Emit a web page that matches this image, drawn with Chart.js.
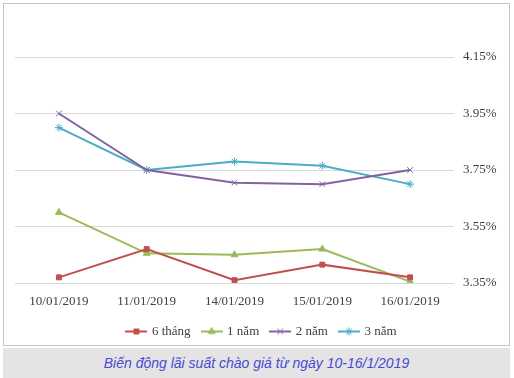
<!DOCTYPE html>
<html><head><meta charset="utf-8">
<script src="https://cdn.jsdelivr.net/npm/chart.js@4/dist/chart.umd.min.js"></script>
<style>
html,body{margin:0;padding:0;background:#fff;width:514px;height:378px;overflow:hidden;}
#box{position:absolute;left:3px;top:3px;width:505px;height:341px;border:1px solid #c4c4c4;}
#wrap{position:absolute;left:0;top:0;width:505px;height:341px;}
#cap{position:absolute;left:3px;top:348px;width:507px;height:30px;background:#e4e4e4;
 font:italic 14px "Liberation Sans",Arial,sans-serif;color:#4a4ad4;text-align:center;line-height:30px;}
</style></head><body>
<div id="box"><div id="wrap"><canvas id="c"></canvas></div></div>
<div id="cap">Biến động lãi suất chào giá từ ngày 10-16/1/2019</div>
<script>
const categories = ["10/01/2019","11/01/2019","14/01/2019","15/01/2019","16/01/2019"];
const seriesNames = ["6 tháng","1 năm","2 năm","3 năm"];
const s6thang = [3.37, 3.47, 3.36, 3.415, 3.37];
const s1nam   = [3.60, 3.455, 3.45, 3.47, 3.355];
const s2nam   = [3.95, 3.75, 3.705, 3.70, 3.75];
const s3nam   = [3.90, 3.75, 3.78, 3.765, 3.70];
const yTicks  = [3.35, 3.55, 3.75, 3.95, 4.15];

const colors = ["#C0504D","#9BBB59","#8064A2","#4BACC6"];
const styles = ["rect","triangle","crossRot","star"];
const radii  = [3.5, 4, 4, 4];
const values = [s6thang, s1nam, s2nam, s3nam];

function legendImg(i){
  const cv = document.createElement('canvas');
  cv.width = 22; cv.height = 10;
  const ctx = cv.getContext('2d');
  ctx.strokeStyle = colors[i]; ctx.lineWidth = 2;
  ctx.beginPath(); ctx.moveTo(0,5); ctx.lineTo(22,5); ctx.stroke();
  ctx.fillStyle = colors[i]; ctx.lineWidth = 1;
  Chart.helpers.drawPoint(ctx, {pointStyle: styles[i], radius: radii[i], borderWidth: 1}, 11, 5);
  return cv;
}

const datasets = seriesNames.map((n,i)=>({
  label: n, data: values[i], borderColor: colors[i], backgroundColor: colors[i],
  borderWidth: 2, tension: 0, pointStyle: styles[i], pointRadius: radii[i],
  pointBorderWidth: 1, pointBorderColor: colors[i], pointBackgroundColor: colors[i]
}));

const font = {family: '"Liberation Serif","Times New Roman",serif', size: 13};
new Chart(document.getElementById('c'), {
  type: 'line',
  data: {labels: categories, datasets},
  options: {
    responsive: true, maintainAspectRatio: false, animation: false,
    layout: {padding: {left: 11, top: 53, right: 0, bottom: -3}},
    plugins: {
      tooltip: {enabled: false},
      legend: {
        position: 'bottom',
        labels: {
          usePointStyle: true, pointStyleWidth: 18, padding: 12, color: '#404040', font,
          generateLabels: (chart) => chart.data.datasets.map((d,i)=>({
            text: d.label, pointStyle: legendImg(i), fillStyle: colors[i], strokeStyle: colors[i],
            lineWidth: 0, datasetIndex: i, hidden: false, fontColor: '#404040'
          }))
        }
      }
    },
    scales: {
      x: {
        offset: true,
        grid: {display: false}, border: {display: false},
        ticks: {color: '#404040', font, padding: 3, maxRotation: 0},
        afterFit: (s) => { s.height = 30; }
      },
      y: {
        position: 'right', min: 3.35, max: 4.15,
        grid: {color: '#d9d9d9', lineWidth: 1, drawTicks: false},
        border: {display: false},
        afterBuildTicks: (s) => { s.ticks = yTicks.map(v=>({value: v})); },
        ticks: {color: '#404040', font, padding: 9, callback: (v)=> v.toFixed(2) + '%'},
        afterFit: (s) => { s.width = 55; }
      }
    }
  }
});
</script>
</body></html>
